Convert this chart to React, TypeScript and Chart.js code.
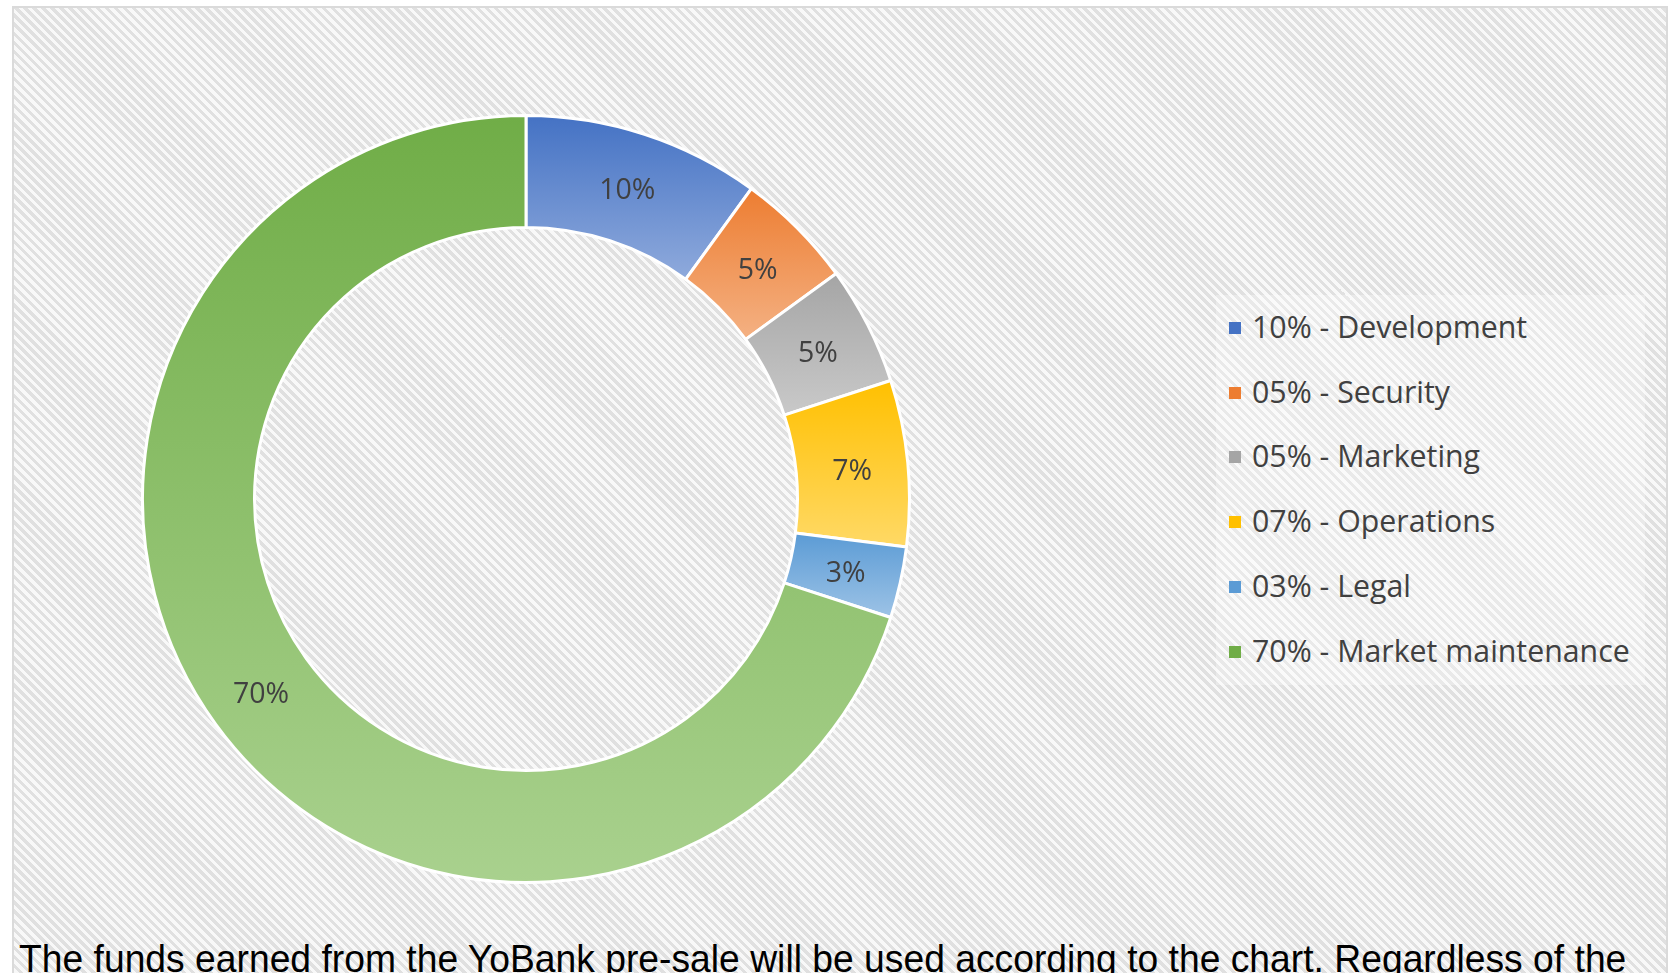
import React, { useEffect, useRef } from "react";
import { Chart, registerables } from "chart.js";

Chart.register(...registerables);

// ---- data ----
const categories = ["Development", "Security", "Marketing", "Operations", "Legal", "Market maintenance"];
const shares = [10, 5, 5, 7, 3, 70];
const sliceLabels = ["10%", "5%", "5%", "7%", "3%", "70%"];
const legendLabels = [
  "10% - Development",
  "05% - Security",
  "05% - Marketing",
  "07% - Operations",
  "03% - Legal",
  "70% - Market maintenance",
];
const topColors = ["#4472C4", "#ED7D31", "#A5A5A5", "#FFC000", "#5B9BD5", "#70AD47"];
const bottomColors = ["#8FAADC", "#F4B183", "#C9C9C9", "#FFD966", "#9DC3E6", "#A9D18E"];
const caption =
  "The funds earned from the YoBank pre-sale will be used according to the chart. Regardless of the";

const FONT = '"Open Sans", "Noto Sans", sans-serif';

const gradientPlugin = {
  id: "sliceGradient",
  beforeDatasetsDraw(chart: any) {
    const meta = chart.getDatasetMeta(0);
    const ctx = chart.ctx;
    meta.data.forEach((arc: any, i: number) => {
      const p = arc.getProps(["x", "y", "startAngle", "endAngle", "innerRadius", "outerRadius"], true);
      let minY = Infinity;
      let maxY = -Infinity;
      const N = 90;
      for (let k = 0; k <= N; k++) {
        const a = p.startAngle + ((p.endAngle - p.startAngle) * k) / N;
        for (const r of [p.innerRadius, p.outerRadius]) {
          const py = p.y + r * Math.sin(a);
          if (py < minY) minY = py;
          if (py > maxY) maxY = py;
        }
      }
      const g = ctx.createLinearGradient(0, minY, 0, maxY);
      g.addColorStop(0, topColors[i]);
      g.addColorStop(1, bottomColors[i]);
      arc.options = Object.assign({}, arc.options, { backgroundColor: g });
    });
  },
  afterDatasetsDraw(chart: any) {
    const meta = chart.getDatasetMeta(0);
    const ctx = chart.ctx;
    ctx.save();
    ctx.font = `28.5px ${FONT}`;
    ctx.fillStyle = "#404040";
    ctx.textAlign = "center";
    ctx.textBaseline = "middle";
    meta.data.forEach((arc: any, i: number) => {
      const pt = arc.tooltipPosition(true);
      ctx.fillText(sliceLabels[i], pt.x, pt.y + 3.5);
    });
    ctx.restore();
  },
};

export default function App() {
  const canvasRef = useRef<HTMLCanvasElement | null>(null);
  const captionRef = useRef<HTMLDivElement | null>(null);

  useEffect(() => {
    const chart = new Chart(canvasRef.current as HTMLCanvasElement, {
      type: "doughnut",
      data: {
        labels: categories,
        datasets: [
          {
            data: shares,
            backgroundColor: topColors,
            borderColor: "#ffffff",
            borderWidth: 3,
            hoverOffset: 0,
          },
        ],
      },
      options: {
        responsive: false,
        animation: false,
        cutout: "70.8%",
        layout: { padding: 0 },
        plugins: {
          legend: { display: false },
          tooltip: { enabled: false },
        },
      },
      plugins: [gradientPlugin],
    } as any);

    // fit caption width
    const c = document.createElement("canvas").getContext("2d");
    if (c && captionRef.current) {
      c.font = '39px "Liberation Sans"';
      const w = c.measureText(caption).width;
      const k = 1608 / w;
      captionRef.current.style.transform = `scaleX(${k})`;
    }
    return () => chart.destroy();
  }, []);

  return (
    <div
      style={{
        position: "absolute",
        left: 0,
        top: 0,
        width: 1673,
        height: 973,
        overflow: "hidden",
        background: "#ffffff",
      }}
    >
      <div
        style={{
          position: "absolute",
          left: 12,
          top: 6,
          width: 1656,
          height: 1000,
          boxSizing: "border-box",
          border: "2px solid #dadada",
          background:
            "repeating-linear-gradient(45deg, #e0e0e0 0px, #e0e0e0 3.2px, #f8f8f8 3.2px, #f8f8f8 6.4px)",
        }}
      />
      <div
        style={{
          position: "absolute",
          left: 1216,
          top: 295,
          width: 429,
          height: 390,
          background: "rgba(255,255,255,0.3)",
        }}
      />
      <canvas
        ref={canvasRef}
        width={770}
        height={770}
        style={{ position: "absolute", left: 140.5, top: 113.5, width: 770, height: 770 }}
      />
      {legendLabels.map((lab, i) => (
        <React.Fragment key={lab}>
          <div
            style={{
              position: "absolute",
              left: 1229,
              top: 322 + 64.7 * i,
              width: 12,
              height: 12,
              background: topColors[i],
            }}
          />
          <div
            style={{
              position: "absolute",
              left: 1252,
              top: 307 + 64.7 * i,
              height: 40,
              lineHeight: "40px",
              fontFamily: FONT,
              fontSize: 30.3,
              color: "#404040",
              whiteSpace: "nowrap",
            }}
          >
            {lab}
          </div>
        </React.Fragment>
      ))}
      <div
        ref={captionRef}
        style={{
          position: "absolute",
          left: 19,
          top: 939,
          lineHeight: "39px",
          fontFamily: '"Liberation Sans", Arial, sans-serif',
          fontSize: 39,
          color: "#000000",
          whiteSpace: "nowrap",
          transformOrigin: "0 0",
        }}
      >
        {caption}
      </div>
    </div>
  );
}
